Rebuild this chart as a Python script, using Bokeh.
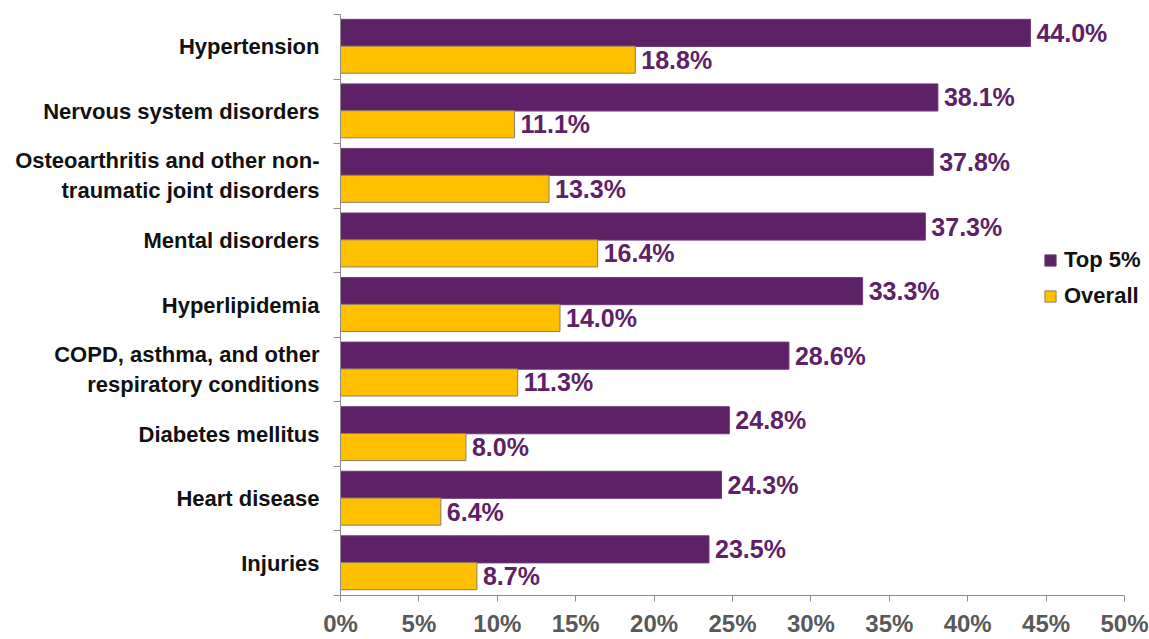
from bokeh.plotting import figure
from bokeh.models import Range1d, FixedTicker, ColumnDataSource, Legend, LegendItem
from bokeh.core.properties import value
from bokeh.embed import file_html
from bokeh.resources import INLINE

categories = [
    "Hypertension",
    "Nervous system disorders",
    "Osteoarthritis and other non-\ntraumatic joint disorders",
    "Mental disorders",
    "Hyperlipidemia",
    "COPD, asthma, and other\nrespiratory conditions",
    "Diabetes mellitus",
    "Heart disease",
    "Injuries",
]
top5 = [44.0, 38.1, 37.8, 37.3, 33.3, 28.6, 24.8, 24.3, 23.5]
overall = [18.8, 11.1, 13.3, 16.4, 14.0, 11.3, 8.0, 6.4, 8.7]
x_ticks = [0, 5, 10, 15, 20, 25, 30, 35, 40, 45, 50]

n = len(categories)
ypos = [n - 1 - i for i in range(n)]  # first category at top

FONT = "Liberation Sans"
PURPLE = "#5e2168"
YELLOW = "#ffc000"

# frame: 784px for 0..50%, extra 25px room on the right for the legend
FRAME_W = 809
x_end = 50 * FRAME_W / 784

p = figure(width=1149, height=639, output_backend="svg", toolbar_location=None,
           x_range=Range1d(0, x_end), y_range=Range1d(-0.5, n - 0.5),
           min_border_left=340, min_border_right=0, min_border_top=14, min_border_bottom=43)
p.outline_line_color = None
p.xgrid.visible = False
p.ygrid.visible = False
p.background_fill_color = "white"

src = ColumnDataSource(dict(
    y=ypos,
    y_top=[y + 0.215 for y in ypos],
    y_over=[y - 0.2 for y in ypos],
    top5=top5,
    overall=overall,
    top5_lbl=[f"{v:.1f}%" for v in top5],
    over_lbl=[f"{v:.1f}%" for v in overall],
))

r1 = p.hbar(y="y_top", right="top5", left=0, height=0.42, source=src,
            fill_color=PURPLE, line_color="#6e3a78", line_width=1)
r2 = p.hbar(y="y_over", right="overall", left=0, height=0.42, source=src,
            fill_color=YELLOW, line_color="#8a7f63", line_width=1)

p.text(x="top5", y="y_top", text="top5_lbl", source=src, x_offset=6,
       text_baseline="middle", text_align="left", text_color=PURPLE,
       text_font=value(FONT), text_font_style="bold", text_font_size="25px")
p.text(x="overall", y="y_over", text="over_lbl", source=src, x_offset=6,
       text_baseline="middle", text_align="left", text_color=PURPLE,
       text_font=value(FONT), text_font_style="bold", text_font_size="25px")

# y axis: labels at centers, tick marks at category boundaries
ya = p.yaxis[0]
ya.ticker = FixedTicker(ticks=ypos, minor_ticks=[k - 0.5 for k in range(n + 1)])
ya.major_label_overrides = {y: c for y, c in zip(ypos, categories)}
ya.major_tick_out = 0
ya.major_tick_in = 0
ya.minor_tick_out = 7
ya.minor_tick_in = 0
ya.minor_tick_line_color = "#8c8c8c"
ya.axis_line_color = "#8c8c8c"
ya.major_label_standoff = 14
ya.major_label_text_font = FONT
ya.major_label_text_font_style = "bold"
ya.major_label_text_font_size = "22px"
ya.major_label_text_color = "#111111"

xa = p.xaxis[0]
xa.ticker = FixedTicker(ticks=x_ticks, minor_ticks=[])
xa.bounds = (0, 50)
xa.major_label_overrides = {t: f"{t}%" for t in x_ticks}
xa.major_tick_out = 6
xa.major_tick_in = 0
xa.major_tick_line_color = "#8c8c8c"
xa.axis_line_color = "#8c8c8c"
xa.major_label_standoff = 8
xa.major_label_text_font = FONT
xa.major_label_text_font_style = "bold"
xa.major_label_text_font_size = "24px"
xa.major_label_text_color = "#595959"

legend = Legend(items=[LegendItem(label="Top 5%", renderers=[r1]),
                       LegendItem(label="Overall", renderers=[r2])],
                location=(703, 286))
legend.glyph_width = 14
legend.glyph_height = 14
legend.label_height = 25
legend.spacing = 10
legend.padding = 0
legend.margin = 0
legend.label_standoff = 7
legend.border_line_color = None
legend.background_fill_alpha = 0
legend.label_text_font = FONT
legend.label_text_font_style = "bold"
legend.label_text_font_size = "22px"
legend.label_text_color = "#111111"
p.add_layout(legend, "center")

open("out.html", "w").write(file_html(p, INLINE))
